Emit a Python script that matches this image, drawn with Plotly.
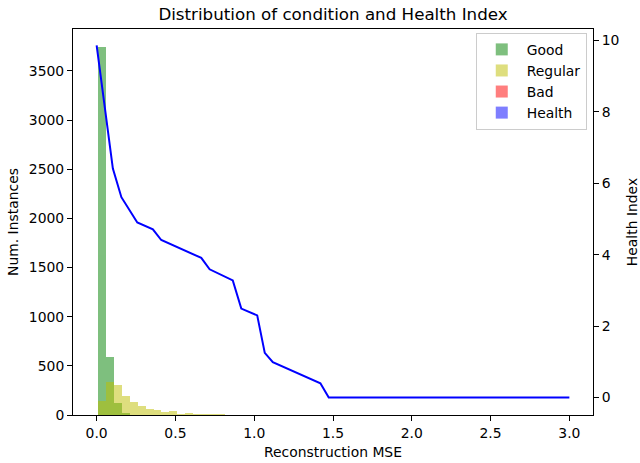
import plotly.graph_objects as go

# ---- data ----
bin_start = 0.006
bin_width = 0.0507
good_counts = [3740, 590, 120, 20]
regular_counts = [142, 340, 304, 193, 132, 91, 61, 55, 32, 42, 10, 22, 10, 10, 3, 10]
bad_counts = []

health_x = [0.0, 0.103, 0.157, 0.205, 0.258, 0.357, 0.410, 0.664, 0.717, 0.864,
            0.918, 1.019, 1.067, 1.118, 1.420, 1.473, 3.0]
health_y = [9.86, 6.41, 5.61, 5.27, 4.90, 4.71, 4.41, 3.91, 3.59, 3.28,
            2.49, 2.30, 1.25, 0.99, 0.40, 0.0, 0.0]

x_ticks = [0.0, 0.5, 1.0, 1.5, 2.0, 2.5, 3.0]
y_ticks = [0, 500, 1000, 1500, 2000, 2500, 3000, 3500]
y2_ticks = [0, 2, 4, 6, 8, 10]


def centers(n):
    return [bin_start + bin_width * (i + 0.5) for i in range(n)]


FONT = "DejaVu Sans"
FS = 13.9
fig = go.Figure()

fig.add_trace(go.Bar(x=centers(len(good_counts)), y=good_counts, width=bin_width,
                     name="Good", marker=dict(color="#008000", line=dict(width=0)),
                     opacity=0.5))
fig.add_trace(go.Bar(x=centers(len(regular_counts)), y=regular_counts, width=bin_width,
                     name="Regular", marker=dict(color="#bfbf00", line=dict(width=0)),
                     opacity=0.5))
fig.add_trace(go.Bar(x=centers(len(bad_counts)) or [None], y=bad_counts or [None],
                     width=bin_width, name="Bad",
                     marker=dict(color="#ff0000", line=dict(width=0)), opacity=0.5))
# legend-only patch for Health
fig.add_trace(go.Bar(x=[None], y=[None], name="Health",
                     marker=dict(color="#0000ff", line=dict(width=0)), opacity=0.5))
fig.add_trace(go.Scatter(x=health_x, y=health_y, mode="lines", yaxis="y2",
                         line=dict(color="#0000ff", width=2), showlegend=False))

axis_common = dict(showline=True, linecolor="black", linewidth=1, ticks="outside",
                   ticklen=5, tickcolor="black", showgrid=False, zeroline=False,
                   automargin=False,
                   tickfont=dict(family=FONT, size=FS, color="black"))

fig.update_layout(
    width=640, height=463,
    margin=dict(l=73, r=47, t=29, b=48),
    paper_bgcolor="white", plot_bgcolor="white",
    barmode="overlay", bargap=0,
    font=dict(family=FONT, size=FS, color="black"),
    title=dict(text="Distribution of condition and Health Index",
               font=dict(family=FONT, size=16.7, color="black"),
               x=(73 + 593) / 2 / 640, xanchor="center",
               y=1 - 14 / 463, yanchor="middle", yref="container"),
    xaxis=dict(range=[-0.15, 3.15], tickvals=x_ticks, tickformat=".1f", mirror=True,
               title=dict(text="Reconstruction MSE", standoff=7,
                          font=dict(family=FONT, size=FS)),
               **axis_common),
    yaxis=dict(range=[0, 3927], tickvals=y_ticks,
               title=dict(text="Num. Instances", standoff=6,
                          font=dict(family=FONT, size=FS)),
               **axis_common),
    yaxis2=dict(range=[-0.49, 10.32], tickvals=y2_ticks, overlaying="y", side="right",
                title=dict(text="Health Index", standoff=8,
                           font=dict(family=FONT, size=FS)),
                **axis_common),
    legend=dict(x=0.988, y=0.99, xanchor="right", yanchor="top",
                bgcolor="rgba(255,255,255,0.8)", bordercolor="#cccccc", borderwidth=1,
                font=dict(family=FONT, size=FS), tracegroupgap=0, itemwidth=40),
)

fig.write_html("out.html")
